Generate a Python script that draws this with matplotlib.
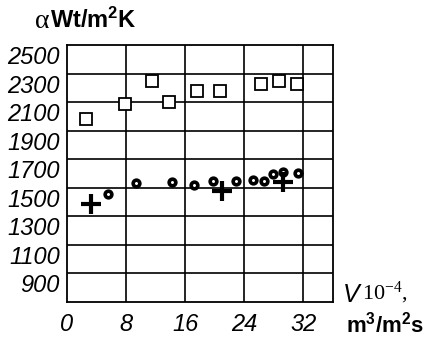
import matplotlib
matplotlib.use("Agg")
import matplotlib.pyplot as plt
import matplotlib.transforms as mtransforms

plt.rcParams['mathtext.fontset'] = 'custom'
plt.rcParams['mathtext.rm'] = 'Liberation Serif'
plt.rcParams['mathtext.bf'] = 'Liberation Sans:bold'
plt.rcParams['mathtext.it'] = 'Liberation Serif:italic'

# squares
sq_x = [2.6, 7.9, 11.5, 13.8, 17.6, 20.7, 26.2, 28.7, 31.1]
sq_y = [1980, 2090, 2245, 2100, 2180, 2180, 2225, 2250, 2230]
# circles
ci_x = [5.6, 9.4, 14.2, 17.2, 19.8, 22.9, 25.2, 26.7, 27.9, 29.3, 31.2]
ci_y = [1455, 1535, 1540, 1520, 1550, 1550, 1555, 1550, 1600, 1610, 1605]
# crosses
cr_x = [3.2, 21.0, 29.3]
cr_y = [1385, 1480, 1540]

x_ticks = [0, 8, 16, 24, 32]
y_ticks = [2500, 2300, 2100, 1900, 1700, 1500, 1300, 1100, 900]

tick_font = dict(family=['Liberation Sans', 'DejaVu Sans'], style='italic', size=17)

fig = plt.figure(figsize=(4.28, 3.42), dpi=100)
ax = fig.add_axes([67/428, 1-302/342, 266/428, 257/342])
ax.set_xlim(0, 36)
ax.set_ylim(700, 2500)

for x in x_ticks[1:]:
    ax.axvline(x, color='black', lw=1.2, zorder=1)
for y in range(900, 2500, 200):
    ax.axhline(y, color='black', lw=1.2, zorder=1)
for s in ax.spines.values():
    s.set_linewidth(1.3)

ax.plot(sq_x, sq_y, 's', ms=8, mfc='white', mec='black', mew=1.3, zorder=3)
ax.plot(ci_x, ci_y, 'o', ms=4.8, mfc='white', mec='black', mew=2.6, zorder=3)
ax.plot(cr_x, cr_y, '+', ms=14, mec='black', mew=3, zorder=3)

ax.set_xticks(x_ticks)
ax.set_yticks(y_ticks)
ax.tick_params(length=0)
ax.set_xticklabels([str(v) for v in x_ticks], **tick_font)
ax.set_yticklabels([str(v) for v in y_ticks], **tick_font)
ax.tick_params(axis='y', pad=5)
ax.tick_params(axis='x', pad=8)
off = mtransforms.ScaledTranslation(0, -10/100, fig.dpi_scale_trans)
for lab in ax.get_yticklabels():
    lab.set_transform(lab.get_transform() + off)

fig.text(35/428, 1-22/342, 'α', family='Liberation Serif', size=20, va='center')
fig.text(50/428, 1-20/342, r'$\mathbf{Wt/m^2K}$', size=17, va='center')
fig.text(343/428, 1-295/342, 'V', family='Liberation Sans', style='italic', size=18, va='center')
fig.text(362/428, 1-293/342, r'$\mathrm{10^{-4}},$', size=16, va='center')
fig.text(346/428, 1-324/342, r'$\mathbf{m^3/m^2s}$', size=16, va='center')

fig.savefig('out.png', dpi=100)
